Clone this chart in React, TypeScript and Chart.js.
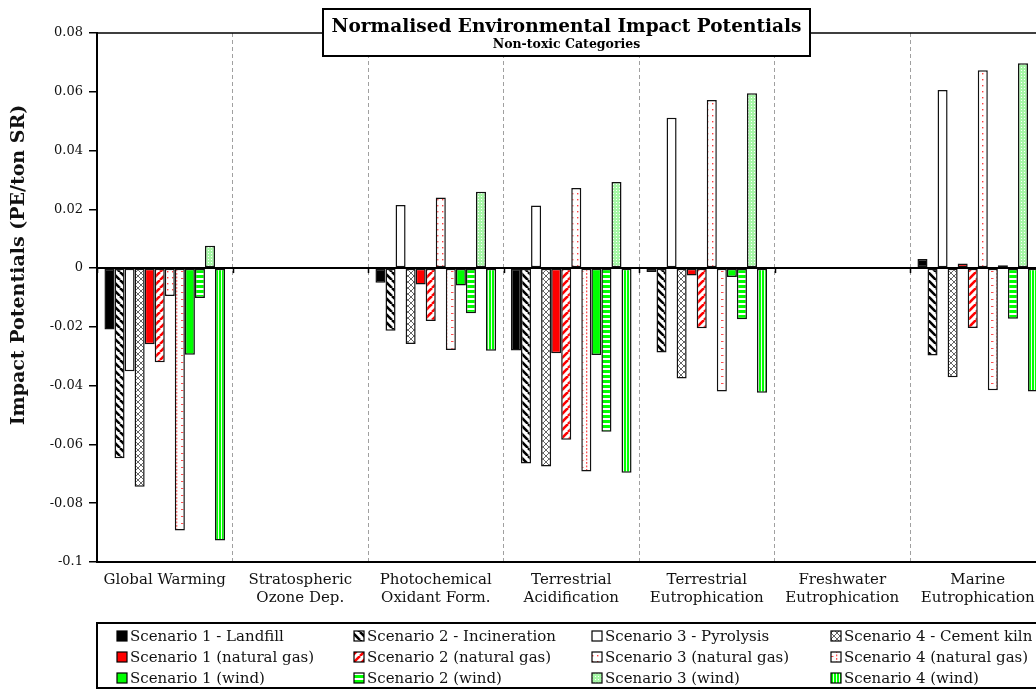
import React, { useEffect, useRef } from "react";
import { Chart, registerables } from "chart.js";

Chart.register(...registerables);

const categories: string[][] = [
  ["Global Warming"],
  ["Stratospheric", "Ozone Dep."],
  ["Photochemical", "Oxidant Form."],
  ["Terrestrial", "Acidification"],
  ["Terrestrial", "Eutrophication"],
  ["Freshwater", "Eutrophication"],
  ["Marine", "Eutrophication"],
];

const scenario1Landfill = [-0.0209, 0.0003, -0.005, -0.028, -0.0013, 0.0001, 0.0031];
const scenario2Incineration = [-0.0647, 0.0001, -0.0213, -0.0665, -0.0287, -0.0001, -0.0297];
const scenario3Pyrolysis = [-0.0351, 0.0001, 0.0215, 0.0213, 0.0512, 0.0001, 0.0606];
const scenario4CementKiln = [-0.0744, 0.0003, -0.0258, -0.0675, -0.0376, -0.0001, -0.0371];
const scenario1NaturalGas = [-0.0259, 0.0002, -0.0056, -0.029, -0.0025, 0.0001, 0.0016];
const scenario2NaturalGas = [-0.032, -0.0003, -0.018, -0.0584, -0.0205, -0.0001, -0.0204];
const scenario3NaturalGas = [-0.0095, -0.0003, 0.024, 0.0273, 0.0572, 0.0001, 0.0673];
const scenario4NaturalGas = [-0.0893, 0.0001, -0.0279, -0.0692, -0.042, -0.0001, -0.0416];
const scenario1Wind = [-0.0295, 0.0003, -0.0059, -0.0296, -0.003, 0.0001, 0.001];
const scenario2Wind = [-0.0102, 0.0001, -0.0154, -0.0557, -0.0174, -0.0001, -0.0172];
const scenario3Wind = [0.0076, 0.0001, 0.026, 0.0293, 0.0595, 0.0001, 0.0697];
const scenario4Wind = [-0.0927, 0.0002, -0.0281, -0.0696, -0.0424, -0.0001, -0.042];

const seriesLabels = [
  "Scenario 1 - Landfill",
  "Scenario 2 - Incineration",
  "Scenario 3 - Pyrolysis",
  "Scenario 4 - Cement kiln",
  "Scenario 1 (natural gas)",
  "Scenario 2 (natural gas)",
  "Scenario 3 (natural gas)",
  "Scenario 4 (natural gas)",
  "Scenario 1 (wind)",
  "Scenario 2 (wind)",
  "Scenario 3 (wind)",
  "Scenario 4 (wind)",
];

const seriesValues = [
  scenario1Landfill,
  scenario2Incineration,
  scenario3Pyrolysis,
  scenario4CementKiln,
  scenario1NaturalGas,
  scenario2NaturalGas,
  scenario3NaturalGas,
  scenario4NaturalGas,
  scenario1Wind,
  scenario2Wind,
  scenario3Wind,
  scenario4Wind,
];

const yMin = -0.1;
const yMax = 0.08;
const yStep = 0.02;

const titleText = "Normalised Environmental Impact Potentials";
const subtitleText = "Non-toxic Categories";
const yAxisTitle = "Impact Potentials (PE/ton SR)";

const FONT = "'DejaVu Serif', 'Liberation Serif', serif";
const GREEN = "#00ff00";
const RED = "#ff0000";

function makePattern(
  ctx: CanvasRenderingContext2D,
  w: number,
  h: number,
  draw: (g: CanvasRenderingContext2D) => void
): CanvasPattern | string {
  const c = document.createElement("canvas");
  c.width = w;
  c.height = h;
  const g = c.getContext("2d");
  if (!g) return "#fff";
  draw(g);
  return ctx.createPattern(c, "repeat") || "#fff";
}

function buildFills(ctx: CanvasRenderingContext2D): (string | CanvasPattern)[] {
  const diagBlack = makePattern(ctx, 8, 8, (g) => {
    g.fillStyle = "#fff";
    g.fillRect(0, 0, 8, 8);
    g.strokeStyle = "#000";
    g.lineWidth = 2.6;
    for (const k of [-8, 0, 8]) {
      g.beginPath();
      g.moveTo(k, 0);
      g.lineTo(k + 8, 8);
      g.stroke();
    }
  });
  const cross = makePattern(ctx, 6, 6, (g) => {
    g.fillStyle = "#fff";
    g.fillRect(0, 0, 6, 6);
    g.strokeStyle = "#555";
    g.lineWidth = 0.9;
    for (const k of [-6, 0, 6]) {
      g.beginPath();
      g.moveTo(k, 0);
      g.lineTo(k + 6, 6);
      g.stroke();
      g.beginPath();
      g.moveTo(k, 6);
      g.lineTo(k + 6, 0);
      g.stroke();
    }
  });
  const diagRed = makePattern(ctx, 8, 8, (g) => {
    g.fillStyle = "#fff";
    g.fillRect(0, 0, 8, 8);
    g.strokeStyle = RED;
    g.lineWidth = 2.6;
    for (const k of [-8, 0, 8]) {
      g.beginPath();
      g.moveTo(k, 8);
      g.lineTo(k + 8, 0);
      g.stroke();
    }
  });
  const dotsRed = makePattern(ctx, 5, 6, (g) => {
    g.fillStyle = "#fff";
    g.fillRect(0, 0, 5, 6);
    g.fillStyle = "#ff4040";
    g.fillRect(2, 1, 1.4, 1.4);
  });
  const dashRed = makePattern(ctx, 10, 7, (g) => {
    g.fillStyle = "#fff";
    g.fillRect(0, 0, 10, 7);
    g.fillStyle = "#ff5050";
    g.fillRect(6, 0, 1.3, 1.8);
    g.fillRect(6, 3.5, 1.3, 1.8);
    g.fillRect(1, 5, 2.5, 1);
  });
  const hStripeGreen = makePattern(ctx, 4, 5, (g) => {
    g.fillStyle = "#fff";
    g.fillRect(0, 0, 4, 5);
    g.fillStyle = GREEN;
    g.fillRect(0, 0, 4, 3);
  });
  const dotGreen = makePattern(ctx, 3, 3, (g) => {
    g.fillStyle = "#a6f7a6";
    g.fillRect(0, 0, 3, 3);
    g.fillStyle = "#ffffff";
    g.fillRect(1, 1, 1, 1);
  });
  const vStripeGreen = makePattern(ctx, 3, 3, (g) => {
    g.fillStyle = GREEN;
    g.fillRect(0, 0, 3, 3);
    g.fillStyle = "#e8ffe8";
    g.fillRect(2, 0, 1, 3);
  });
  return [
    "#000000",
    diagBlack,
    "#ffffff",
    cross,
    RED,
    diagRed,
    dotsRed,
    dashRed,
    GREEN,
    hStripeGreen,
    dotGreen,
    vStripeGreen,
  ];
}

const CANVAS_W = 1060;
const CANVAS_H = 690;

const decorPlugin = {
  id: "decor",
  afterDatasetsDraw(chart: any) {
    const ctx: CanvasRenderingContext2D = chart.ctx;
    const area = chart.chartArea;
    const y = chart.scales.y;
    const y0 = y.getPixelForValue(0);
    ctx.save();
    ctx.strokeStyle = "#000";
    ctx.lineWidth = 2;
    ctx.beginPath();
    ctx.moveTo(area.left, y0);
    ctx.lineTo(area.right, y0);
    ctx.stroke();
    const n = categories.length;
    const cw = (area.right - area.left) / n;
    ctx.lineWidth = 1.5;
    for (let i = 0; i <= n; i++) {
      const px = Math.round(area.left + i * cw) + 0.5;
      ctx.beginPath();
      ctx.moveTo(px, y0);
      ctx.lineTo(px, y0 + 5);
      ctx.stroke();
    }
    ctx.lineWidth = 1.5;
    ctx.beginPath();
    ctx.moveTo(area.left, area.top);
    ctx.lineTo(area.right, area.top);
    ctx.lineTo(area.right, area.bottom);
    ctx.stroke();
    ctx.restore();
  },
  afterDraw(chart: any) {
    const ctx: CanvasRenderingContext2D = chart.ctx;
    const area = chart.chartArea;
    ctx.save();
    const bx = 323,
      by = 9,
      bw = 487,
      bh = 47;
    ctx.fillStyle = "#fff";
    ctx.fillRect(bx, by, bw, bh);
    ctx.strokeStyle = "#000";
    ctx.lineWidth = 2;
    ctx.strokeRect(bx, by, bw, bh);
    ctx.fillStyle = "#000";
    ctx.textAlign = "center";
    ctx.textBaseline = "middle";
    ctx.font = `bold 18.5px ${FONT}`;
    ctx.fillText(titleText, bx + bw / 2, 27);
    ctx.font = `bold 12.5px ${FONT}`;
    ctx.fillText(subtitleText, bx + bw / 2, 45);

    ctx.save();
    ctx.translate(19, 265);
    ctx.rotate(-Math.PI / 2);
    ctx.font = `bold 19px ${FONT}`;
    ctx.fillStyle = "#111";
    ctx.fillText(yAxisTitle, 0, 0);
    ctx.restore();

    const lx = area.left;
    const ly = 623;
    ctx.lineWidth = 2;
    ctx.strokeStyle = "#000";
    ctx.strokeRect(lx, ly, CANVAS_W, 65);
    const colX = [117, 354, 592, 831];
    const rowY = [636, 657, 678];
    ctx.textAlign = "left";
    ctx.textBaseline = "middle";
    ctx.font = `15px ${FONT}`;
    chart.data.datasets.forEach((ds: any, i: number) => {
      const col = i % 4;
      const row = Math.floor(i / 4);
      const mx = colX[col];
      const my = rowY[row];
      ctx.fillStyle = ds.backgroundColor;
      ctx.fillRect(mx, my - 5, 10, 10);
      ctx.lineWidth = 1.2;
      ctx.strokeStyle = "#000";
      ctx.strokeRect(mx, my - 5, 10, 10);
      ctx.fillStyle = "#111";
      ctx.fillText(ds.label, mx + 13, my + 1);
    });
    ctx.restore();
  },
};

export default function App() {
  const canvasRef = useRef<HTMLCanvasElement | null>(null);

  useEffect(() => {
    document.body.style.margin = "0";
    const canvas = canvasRef.current;
    if (!canvas) return;
    const ctx = canvas.getContext("2d");
    if (!ctx) return;
    const fills = buildFills(ctx);

    const chart = new Chart(ctx, {
      type: "bar",
      data: {
        labels: categories,
        datasets: seriesValues.map((vals, i) => ({
          label: seriesLabels[i],
          data: vals,
          backgroundColor: fills[i] as any,
          borderColor: "#111",
          borderWidth: 1.5,
          borderSkipped: false,
          categoryPercentage: 0.89,
          barPercentage: 1.0,
        })),
      },
      options: {
        animation: false,
        responsive: false,
        maintainAspectRatio: false,
        layout: { padding: { top: 33, left: 0, right: 14.5, bottom: 0 } },
        plugins: {
          legend: { display: false },
          tooltip: { enabled: false },
          title: { display: false },
        },
        scales: {
          x: {
            grid: {
              display: true,
              offset: true,
              drawTicks: false,
              color: "#a0a0a0",
              lineWidth: 1,
            },
            border: { display: true, color: "#000", width: 2, dash: [4, 3] },
            ticks: {
              font: { family: FONT, size: 15, lineHeight: 1.2 },
              color: "#111",
              padding: 9,
              maxRotation: 0,
              autoSkip: false,
            },
            afterFit: (scale: any) => {
              scale.height = CANVAS_H - 562;
            },
          },
          y: {
            min: yMin,
            max: yMax,
            ticks: {
              stepSize: yStep,
              font: { family: FONT, size: 13 },
              color: "#111",
              padding: 6,
              callback: (v: any) => String(Number(Number(v).toFixed(2))),
            },
            grid: {
              drawOnChartArea: false,
              drawTicks: true,
              tickLength: 8,
              color: "#000",
              lineWidth: 1.5,
            },
            border: { display: true, color: "#000", width: 2 },
            afterFit: (scale: any) => {
              scale.width = 97;
            },
          },
        },
      },
      plugins: [decorPlugin],
    });
    return () => chart.destroy();
  }, []);

  return (
    <div
      style={{
        position: "absolute",
        left: 0,
        top: 0,
        width: 1036,
        height: 690,
        overflow: "hidden",
        background: "#fff",
      }}
    >
      <canvas
        ref={canvasRef}
        width={CANVAS_W}
        height={CANVAS_H}
        style={{ width: CANVAS_W, height: CANVAS_H, display: "block" }}
      />
    </div>
  );
}
